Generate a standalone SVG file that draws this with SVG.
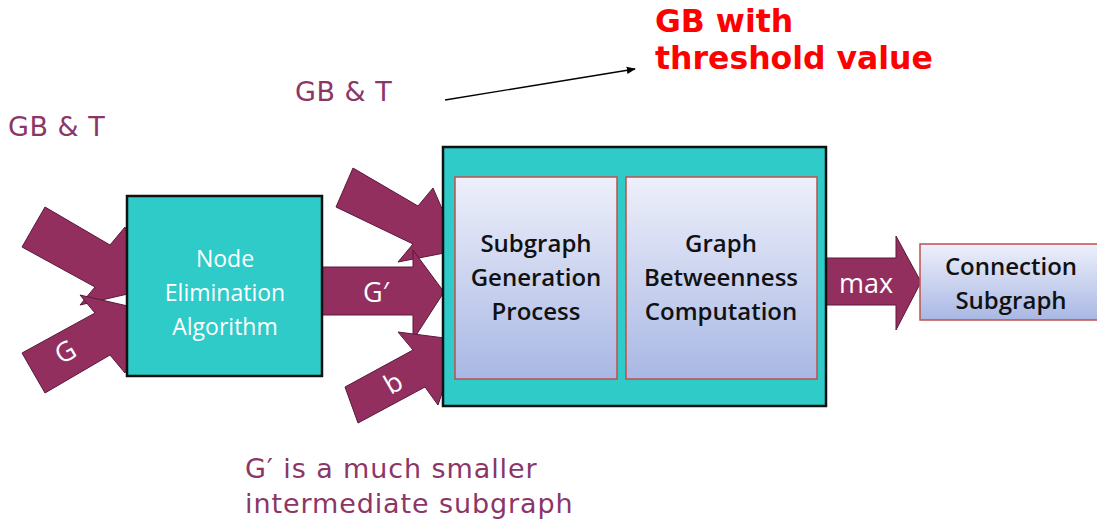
<svg xmlns="http://www.w3.org/2000/svg" width="1097" height="522" viewBox="0 0 1097 522">
<defs>
<linearGradient id="bluegrad" x1="0" y1="0" x2="0" y2="1">
<stop offset="0" stop-color="#eef0fa"/>
<stop offset="1" stop-color="#a8b7e4"/>
</linearGradient>
<marker id="ah" viewBox="0 0 10 10" refX="9" refY="5" markerWidth="7" markerHeight="7" orient="auto">
<path d="M0,1 L10,5 L0,9 z" fill="#000"/>
</marker>
</defs>
<style>
.arr{fill:#922f5f;stroke:#5a1a3a;stroke-width:1}
.teal{fill:#2ecbc9;stroke:#111;stroke-width:2.5}
.inner{fill:url(#bluegrad);stroke:#c0504d;stroke-width:1.5}
.wt{font-family:"Open Sans","Liberation Sans",sans-serif;font-size:23px;fill:#fff;text-anchor:middle}
.lb{font-family:"Open Sans","Liberation Sans",sans-serif;font-size:27px;fill:#fff;text-anchor:middle}
.bt{font-family:"Open Sans","Liberation Sans",sans-serif;font-size:24px;font-weight:600;fill:#111;text-anchor:middle}
.pt{font-family:"DejaVu Sans",sans-serif;font-size:27px;fill:#8c3567;letter-spacing:0.5px}
.bb{letter-spacing:0.9px}
.rt{font-family:"DejaVu Sans",sans-serif;font-size:31.5px;font-weight:bold;fill:#f00}
</style>
<rect width="1097" height="522" fill="#fff"/>
<g id="connectors">
<polygon class="arr" points="45,207 110,245 125,227 145,290 80,305 95,287 22,247"/>
<polygon class="arr" points="22,353 95,313 80,295 145,310 125,373 110,355 45,393"/>
<polygon class="arr" points="353,168 418,206 433,188 460,250 398,262 413,244 336,207"/>
<polygon class="arr" points="320,267 413,267 413,250 444,292 413,340 413,315 320,315"/>
<polygon class="arr" points="345,387 413,350 398,332 460,340 438,405 425,387 358,423"/>
<polygon class="arr" points="826,258 896,258 896,236 921,282 896,330 896,305 826,305"/>
<line x1="445" y1="100" x2="635" y2="69" stroke="#000" stroke-width="1.3" marker-end="url(#ah)"/>
</g>
<g id="node-elimination">
<rect class="teal" x="127" y="196" width="195" height="180"/>
<text class="wt" x="225" y="267">Node</text>
<text class="wt" x="225" y="301">Elimination</text>
<text class="wt" x="225" y="335">Algorithm</text>
</g>
<g id="gb-box">
<rect class="teal" x="443" y="147" width="383" height="259"/>
</g>
<g id="subgraph-generation">
<rect class="inner" x="455" y="177" width="162" height="202"/>
<text class="bt" x="536" y="252">Subgraph</text>
<text class="bt" x="536" y="286">Generation</text>
<text class="bt" x="536" y="320">Process</text>
</g>
<g id="graph-betweenness">
<rect class="inner" x="626" y="177" width="191" height="202"/>
<text class="bt" x="721" y="252">Graph</text>
<text class="bt" x="721" y="286">Betweenness</text>
<text class="bt" x="721" y="320">Computation</text>
</g>
<g id="connection-subgraph">
<rect class="inner" x="920" y="244" width="185" height="76"/>
<text class="bt" x="1011" y="275">Connection</text>
<text class="bt" x="1011" y="309">Subgraph</text>
</g>
<g id="labels">
<text class="lb" x="376" y="302">G′</text>
<text class="lb" x="866" y="293">max</text>
<text class="lb" transform="translate(70,360) rotate(-30)" x="0" y="0">G</text>
<text class="lb" transform="translate(398,391) rotate(-30)" x="0" y="0">b</text>
<text class="pt" x="8" y="136">GB &amp; T</text>
<text class="pt" x="295" y="101">GB &amp; T</text>
<text class="rt" x="655" y="32">GB with</text>
<text class="rt" x="655" y="69">threshold value</text>
<text class="pt bb" x="245" y="478">G′ is a much smaller</text>
<text class="pt bb" x="245" y="513">intermediate subgraph</text>
</g>
</svg>
